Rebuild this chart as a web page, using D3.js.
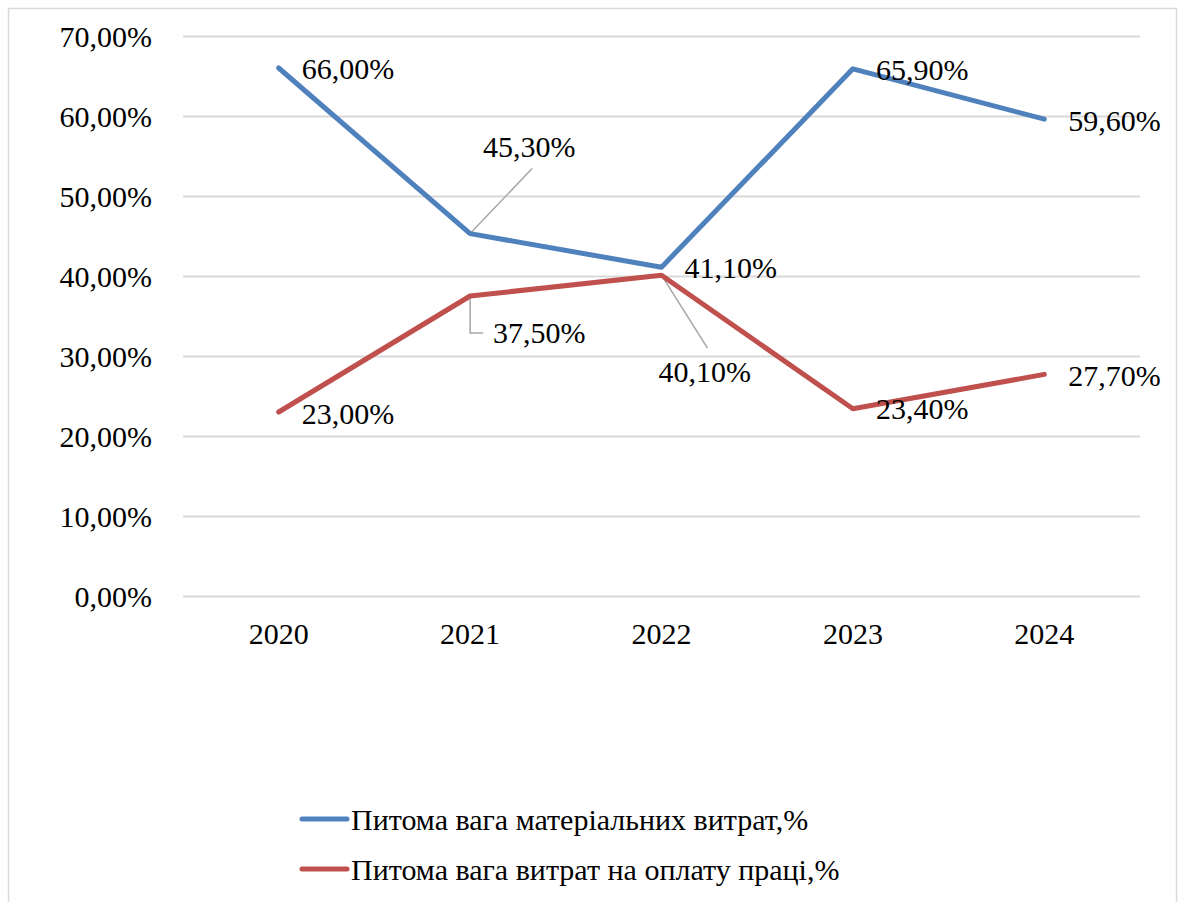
<!DOCTYPE html>
<html>
<head>
<meta charset="utf-8">
<script src="https://cdn.jsdelivr.net/npm/d3@7"></script>
<style>
  svg text { font-family: 'Liberation Serif' !important; }
</style>
</head>
<body style="margin:0">
<svg id="chart" width="1182" height="902" style="display:block" font-family="Liberation Serif"></svg>
<script>
const categories = ["2020", "2021", "2022", "2023", "2024"];
const materialValues = [66.0, 45.3, 41.1, 65.9, 59.6];
const laborValues = [23.0, 37.5, 40.1, 23.4, 27.7];
const seriesNames = ["Питома вага матеріальних витрат,%", "Питома вага витрат на оплату праці,%"];
const yTicks = [0, 10, 20, 30, 40, 50, 60, 70];

// label placement (pixel offsets from the point) – style only
const materialLabelOffsets = [[23, 11], [13, -77], [23, 11], [23, 11], [24, 12]];
const laborLabelOffsets = [[23, 12], [23, 47], [-3, 107], [23, 10], [24, 12]];
// leader lines: null or list of relative points from data point
const materialLeaders = [null, [[0, 0], [62, -65]], null, null, null];
const laborLeaders = [null, [[0, 0], [0, 37], [13, 37]], [[0, 0], [46, 73]], null, null];

const colors = ["#4f81bd", "#c0504d"];
const TXT = "font-family:'Liberation Serif' !important;font-size:30px";
const fmt = v => v.toFixed(2).replace(".", ",") + "%";

const svg = d3.select("#chart");

svg.append("rect")
  .attr("x", 8.5).attr("y", 8.5)
  .attr("width", 1168).attr("height", 910)
  .attr("fill", "none").attr("stroke", "#d9d9d9").attr("stroke-width", 1.5);

const plot = { left: 183, right: 1140, top: 36, bottom: 596 };

const x = d3.scaleBand().domain(categories).range([plot.left, plot.right]).padding(0);
const y = d3.scaleLinear().domain([0, 70]).range([plot.bottom, plot.top]);
const cx = c => x(c) + x.bandwidth() / 2;

svg.append("g")
  .selectAll("line").data(yTicks).join("line")
  .attr("x1", plot.left).attr("x2", plot.right)
  .attr("y1", d => Math.round(y(d)) + 0.5).attr("y2", d => Math.round(y(d)) + 0.5)
  .attr("stroke", "#d9d9d9").attr("stroke-width", 2);

const yAxis = d3.axisLeft(y).tickValues(yTicks).tickSize(0).tickPadding(0)
  .tickFormat(d => d.toFixed(2).replace(".", ",") + "%");
const gy = svg.append("g").attr("transform", "translate(152,0)").call(yAxis);
gy.select(".domain").remove();
gy.attr("font-family", "Liberation Serif").attr("font-size", 30);
gy.selectAll("text").attr("style", TXT).attr("fill", "#000").attr("dy", null).attr("y", 10);

const xAxis = d3.axisBottom(x).tickSize(0).tickPadding(0);
const gx = svg.append("g").attr("transform", `translate(0,${plot.bottom})`).call(xAxis);
gx.select(".domain").remove();
gx.attr("font-family", "Liberation Serif").attr("font-size", 30);
gx.selectAll("text").attr("style", TXT).attr("fill", "#000").attr("dy", null).attr("y", 48);

const series = [
  { name: seriesNames[0], values: materialValues, color: colors[0], offsets: materialLabelOffsets, leaders: materialLeaders },
  { name: seriesNames[1], values: laborValues, color: colors[1], offsets: laborLabelOffsets, leaders: laborLeaders }
];

const line = d3.line().x((d, i) => cx(categories[i])).y(d => y(d));

series.forEach(s => {
  s.leaders.forEach((ld, i) => {
    if (!ld) return;
    const px = cx(categories[i]), py = y(s.values[i]);
    svg.append("polyline")
      .attr("points", ld.map(p => `${px + p[0]},${py + p[1]}`).join(" "))
      .attr("fill", "none").attr("stroke", "#a6a6a6").attr("stroke-width", 1.5);
  });
});

series.forEach(s => {
  svg.append("path")
    .datum(s.values)
    .attr("d", line)
    .attr("fill", "none")
    .attr("stroke", s.color)
    .attr("stroke-width", 5)
    .attr("stroke-linejoin", "round")
    .attr("stroke-linecap", "round");
});

series.forEach(s => {
  svg.append("g").selectAll("text").data(s.values).join("text")
    .attr("x", (d, i) => cx(categories[i]) + s.offsets[i][0])
    .attr("y", (d, i) => y(d) + s.offsets[i][1])
    .attr("style", TXT)
    .attr("fill", "#000")
    .text(d => fmt(d));
});

const legend = svg.append("g");
series.forEach((s, i) => {
  const ly = 819 + i * 50;
  legend.append("line")
    .attr("x1", 302).attr("x2", 347).attr("y1", ly).attr("y2", ly)
    .attr("stroke", s.color).attr("stroke-width", 5).attr("stroke-linecap", "round");
  legend.append("text")
    .attr("x", 351).attr("y", ly + 11)
    .attr("style", TXT)
    .attr("fill", "#000")
    .text(s.name);
});
</script>
</body>
</html>
